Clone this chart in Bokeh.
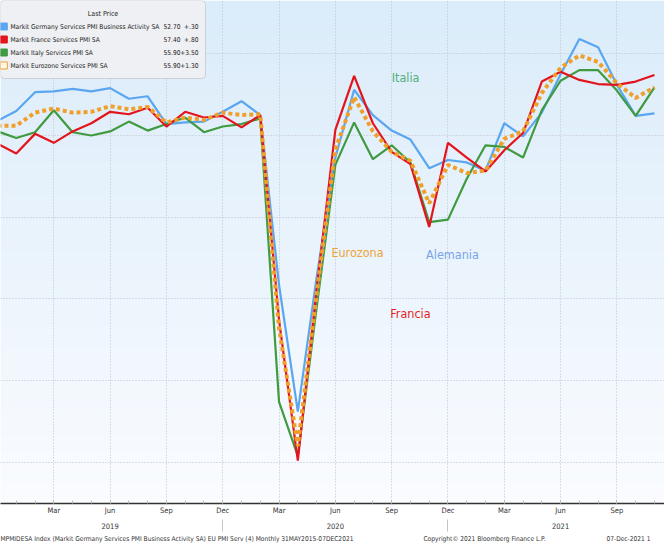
import numpy as np
from bokeh.plotting import figure
from bokeh.models import (Range1d, FixedTicker, LinearAxis, BoxAnnotation, ColumnDataSource)
from bokeh.core.properties import value
from bokeh.embed import file_html
from bokeh.resources import INLINE

# ---------------- data ----------------
months = ["Dec 2018",
          "Jan 2019", "Feb 2019", "Mar 2019", "Apr 2019", "May 2019", "Jun 2019",
          "Jul 2019", "Aug 2019", "Sep 2019", "Oct 2019", "Nov 2019", "Dec 2019",
          "Jan 2020", "Feb 2020", "Mar 2020", "Apr 2020", "May 2020", "Jun 2020",
          "Jul 2020", "Aug 2020", "Sep 2020", "Oct 2020", "Nov 2020", "Dec 2020",
          "Jan 2021", "Feb 2021", "Mar 2021", "Apr 2021", "May 2021", "Jun 2021",
          "Jul 2021", "Aug 2021", "Sep 2021", "Oct 2021", "Nov 2021"]

germany = [51.8, 53.0, 55.3, 55.4, 55.7, 55.4, 55.8, 54.5, 54.8, 51.4, 51.6, 51.7, 52.9,
           54.2, 52.5, 31.7, 16.2, 32.6, 47.3, 55.6, 52.5, 50.6, 49.5, 46.0, 47.0,
           46.7, 45.7, 51.5, 49.9, 52.8, 57.5, 61.8, 60.8, 56.2, 52.4, 52.7]
france = [49.0, 47.8, 50.2, 49.1, 50.5, 51.5, 52.9, 52.6, 53.4, 51.1, 52.9, 52.2, 52.4,
          51.0, 52.5, 27.4, 10.2, 31.1, 50.7, 57.3, 51.5, 48.0, 46.5, 38.8, 49.1,
          47.3, 45.6, 48.2, 50.3, 56.6, 57.8, 56.8, 56.3, 56.2, 56.6, 57.4]
italy = [50.5, 49.7, 50.4, 53.1, 50.4, 50.0, 50.5, 51.7, 50.6, 51.4, 52.2, 50.4, 51.1,
         51.4, 52.1, 17.4, 10.8, 28.9, 46.4, 51.6, 47.1, 48.8, 46.7, 39.4, 39.7,
         44.7, 48.8, 48.6, 47.3, 53.1, 56.7, 58.0, 58.0, 55.5, 52.4, 55.9]
eurozone = [51.2, 51.2, 52.8, 53.3, 52.8, 52.9, 53.6, 53.2, 53.5, 51.6, 52.2, 51.9, 52.8,
            52.5, 52.6, 26.4, 12.0, 30.5, 48.3, 54.7, 50.5, 48.0, 46.9, 41.7, 46.4,
            45.4, 45.7, 49.6, 50.5, 55.2, 58.3, 59.8, 59.0, 56.4, 54.6, 55.9]

series_names = ["Markit Germany Services PMI Business Activity SA",
                "Markit France Services PMI SA",
                "Markit Italy Services PMI SA",
                "Markit Eurozone Services PMI SA"]
last_price = ["52.70", "57.40", "55.90", "55.90"]
net_change = ["+.30", "+.80", "+3.50", "+1.30"]

tick_months = ["Mar 2019", "Jun 2019", "Sep 2019", "Dec 2019", "Mar 2020", "Jun 2020",
               "Sep 2020", "Dec 2020", "Mar 2021", "Jun 2021", "Sep 2021"]
tick_labels = ["Mar", "Jun", "Sep", "Dec", "Mar", "Jun", "Sep", "Dec", "Mar", "Jun", "Sep"]
year_months = ["Jun 2019", "Jun 2020", "Jun 2021"]
year_labels = ["2019", "2020", "2021"]
year_breaks = ["Dec 2019", "Dec 2020"]
grid_months = ["Dec 2018"] + tick_months
y_grid = [10, 20, 30, 40, 50, 60]

note_texts = ["Italia", "Eurozona", "Alemania", "Francia"]
note_x = [21.74, 19.18, 24.24, 22.0]
note_y = [57.1, 35.7, 35.4, 28.2]

footer_texts = ["MPMIDESA Index (Markit Germany Services PMI Business Activity SA) EU PMI Serv (4)  Monthly 31MAY2015-07DEC2021",
                "Copyright\u00a9 2021 Bloomberg Finance L.P.",
                "07-Dec-2021 1"]

# ---------------- geometry helpers (reference pixel -> data) ----------------
SX, SY = 18.77, 8.17
def px2x(px):
    return (px - 5) / SX
def py2y(py):
    return 50 + (143 - py) / SY

idx = {m: i for i, m in enumerate(months)}
x = np.arange(len(months))

FONT = "DejaVu Sans Condensed, Roboto"
BLUE, RED, GREEN, ORANGE = "#5aa6f0", "#e4141c", "#3f9a40", "#f0a02a"
TXT = "#333333"

p = figure(width=664, height=545, output_backend="svg", toolbar_location=None,
           x_range=Range1d(px2x(8), px2x(672)), y_range=Range1d(py2y(511), py2y(8)),
           min_border_left=0, min_border_right=0, min_border_top=0, min_border_bottom=42)
p.outline_line_color = None
p.border_fill_color = "white"
p.background_fill_color = "white"

# gradient background
n = 96
top = np.array([219, 236, 250])
bot = np.array([250, 252, 255])
img = np.zeros((n, 1), dtype=np.uint32)
view = img.view(dtype=np.uint8).reshape((n, 1, 4))
for i in range(n):
    t = i / (n - 1)  # 0 bottom -> 1 top
    c = bot + (top - bot) * t
    view[i, 0, 0] = int(c[0]); view[i, 0, 1] = int(c[1]); view[i, 0, 2] = int(c[2]); view[i, 0, 3] = 255
x0, x1 = p.x_range.start, p.x_range.end
y0, y1 = p.y_range.start, p.y_range.end
p.image_rgba(image=[img], x=x0, y=y0, dw=x1 - x0, dh=y1 - y0, level="image")

# grids
p.xgrid.ticker = FixedTicker(ticks=[idx[m] for m in grid_months])
p.ygrid.ticker = FixedTicker(ticks=y_grid)
for g in (p.xgrid, p.ygrid):
    g.grid_line_color = "#b9c3cc"
    g.grid_line_dash = "1 2"
    g.grid_line_width = 1

# legend box (under the lines' level, over the grid)
p.add_layout(BoxAnnotation(left=px2x(8), right=px2x(213), top=py2y(8), bottom=py2y(86),
                           fill_color="#eef0f3", fill_alpha=1, line_color="#8a8a8a",
                           line_width=1, border_radius=4, level="underlay"))

# lines
p.line(x, germany, line_color=BLUE, line_width=2.2)
p.line(x, italy, line_color=GREEN, line_width=2.2)
p.line(x, france, line_color=RED, line_width=2.2)
p.line(x, eurozone, line_color=ORANGE, line_width=4, line_dash="4 3")

# annotation texts
note_src = ColumnDataSource(dict(x=note_x, y=note_y, text=note_texts,
                                 color=["#4fb07a", "#f0a236", "#79a3ea", "#e41e2a"]))
p.text(x="x", y="y", text="text", source=note_src, text_color="color",
       text_font=value(FONT), text_font_size="12.5px", text_align="center",
       text_baseline="middle")

# legend contents
row_y = [34, 47, 60, 73]
leg_src = ColumnDataSource(dict(
    sx=[px2x(11.3)] * 4, sy=[py2y(v) for v in row_y],
    fill=[BLUE, RED, GREEN, "#fff6e8"], line=[BLUE, RED, GREEN, ORANGE],
    nx=[px2x(18)] * 4, name=series_names,
    vx=[px2x(188)] * 4, val=last_price,
    cx=[px2x(206)] * 4, chg=net_change))
p.scatter(x="sx", y="sy", source=leg_src, marker="square", size=7,
          fill_color="fill", line_color="line", line_width=1)
for col, xcol, align in [("name", "nx", "left"), ("val", "vx", "right"), ("chg", "cx", "right")]:
    p.text(x=xcol, y="sy", text=col, source=leg_src, text_font=value(FONT),
           text_font_size="6.6px", text_color="#222222", text_baseline="middle",
           text_align=align)
p.text(x=[px2x(110.5)], y=[py2y(21)], text=["Last Price"], text_font=value(FONT),
       text_font_size="7px", text_color="#222222", text_baseline="middle",
       text_align="center")

# axes
p.yaxis.visible = False
ax = p.xaxis[0]
ax.ticker = FixedTicker(ticks=[idx[m] for m in tick_months], minor_ticks=list(x))
ax.major_label_overrides = {idx[m]: lab for m, lab in zip(tick_months, tick_labels)}
ax.major_label_text_font = FONT
ax.major_label_text_font_size = "7.5px"
ax.major_label_text_color = TXT
ax.major_label_standoff = 2
ax.axis_line_color = "#333333"
ax.axis_line_width = 1.5
ax.major_tick_in = 3
ax.major_tick_out = 0
ax.minor_tick_in = 3
ax.minor_tick_out = 0
ax.major_tick_line_color = "#aaaaaa"
ax.minor_tick_line_color = "#bbbbbb"

def plain_axis(ticks, labels, standoff, size):
    a = LinearAxis(ticker=FixedTicker(ticks=ticks),
                   major_label_overrides={t: l for t, l in zip(ticks, labels)})
    a.major_label_text_font = FONT
    a.major_label_text_font_size = size
    a.major_label_text_color = TXT
    a.major_label_standoff = standoff
    a.axis_line_color = None
    a.major_tick_line_color = None
    a.minor_tick_line_color = None
    a.major_tick_out = 0
    a.minor_tick_out = 0
    a.major_tick_in = 0
    a.minor_tick_in = 0
    return a

year_axis = plain_axis([idx[m] for m in year_months], year_labels, 5, "7.5px")
p.add_layout(year_axis, "below")

# thin year-break marks reaching up into the year row
brk = LinearAxis(ticker=FixedTicker(ticks=[idx[m] for m in year_breaks]),
                 major_label_overrides={idx[m]: "" for m in year_breaks})
brk.axis_line_color = None
brk.minor_tick_line_color = None
brk.major_tick_line_color = "#c4c4c4"
brk.major_tick_in = 12
brk.major_tick_out = 0
brk.minor_tick_in = 0
brk.minor_tick_out = 0
brk.major_label_standoff = 0
brk.major_label_text_font_size = "0px"
p.add_layout(brk, "below")

foot_ticks = [round(px2x(v), 3) for v in (182, 492, 636)]
footer_axis = plain_axis(foot_ticks, footer_texts, 3, "6.6px")
p.add_layout(footer_axis, "below")

open("out.html", "w").write(file_html(p, INLINE))
